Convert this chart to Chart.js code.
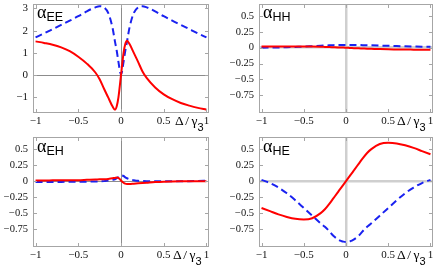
<!DOCTYPE html>
<html>
<head>
<meta charset="utf-8">
<script src="https://cdn.jsdelivr.net/npm/chart.js@4.4.1/dist/chart.umd.min.js"></script>
<style>
body { margin: 0; background: #fff; width: 436px; height: 267px; overflow: hidden; position: relative; }
.panel { position: absolute; }
.tag { position: absolute; white-space: nowrap; line-height: 1; font-size: 18px; font-family: "Liberation Serif", "Times New Roman", Times, "DejaVu Serif", serif; color: #000; }
.tag .s { font-size: 12.5px; font-family: "Liberation Sans", Arial, Helvetica, sans-serif; position: relative; top: 3px; }
.axl { position: absolute; white-space: nowrap; line-height: 1; font-size: 13.5px; font-family: "Liberation Serif", "Times New Roman", Times, "DejaVu Serif", serif; color: #000; word-spacing: -1px; }
.axl .s { font-size: 11px; font-family: "Liberation Sans", Arial, Helvetica, sans-serif; position: relative; top: 6px; }
</style>
</head>
<body>
<div class="panel" style="left:0;top:0"><canvas id="chartEE" width="218" height="134"></canvas></div>
<div class="panel" style="left:218px;top:0"><canvas id="chartHH" width="218" height="134"></canvas></div>
<div class="panel" style="left:0;top:134px"><canvas id="chartEH" width="218" height="133"></canvas></div>
<div class="panel" style="left:218px;top:134px"><canvas id="chartHE" width="218" height="133"></canvas></div>

<div class="tag" style="left:37px;top:3px">α<span class="s">EE</span></div>
<div class="tag" style="left:263px;top:3px">α<span class="s">HH</span></div>
<div class="tag" style="left:37px;top:137px">α<span class="s">EH</span></div>
<div class="tag" style="left:263px;top:137px">α<span class="s">HE</span></div>

<div class="axl" style="left:175px;top:114px">Δ / γ<span class="s">3</span></div>
<div class="axl" style="left:397px;top:114px">Δ / γ<span class="s">3</span></div>
<div class="axl" style="left:173px;top:248px">Δ / γ<span class="s">3</span></div>
<div class="axl" style="left:397px;top:248px">Δ / γ<span class="s">3</span></div>

<script>
// x-waarden (Δ/γ3), dezelfde voor alle vier panelen
let xValues = [-1, -0.9, -0.8, -0.7, -0.6, -0.5, -0.4, -0.3, -0.25, -0.2, -0.15, -0.1, -0.07, -0.05, -0.03, 0,
	0.03, 0.05, 0.07, 0.1, 0.15, 0.2, 0.25, 0.3, 0.4, 0.5, 0.6, 0.7, 0.8, 0.9, 1];

// tick labels
let xTicks = [-1, -0.5, 0, 0.5, 1];
let eeTicks = [-1, 0, 1, 2, 3];
let smallTicks = [-0.75, -0.5, -0.25, 0, 0.25, 0.5];

// alpha_EE
let eeRed = [1.52, 1.45, 1.37, 1.25, 1.08, 0.83, 0.52, 0.12, -0.18, -0.6, -1.0, -1.4, -1.55, -1.4, -1.0, 0,
	1.0, 1.4, 1.55, 1.4, 1.0, 0.6, 0.18, -0.12, -0.55, -0.86, -1.08, -1.25, -1.37, -1.47, -1.55];
let eeBlue = [1.7, 1.88, 2.07, 2.26, 2.45, 2.65, 2.87, 3.05, 3.1, 3.05, 2.8, 2.15, 1.5, 1.1, 0.6, 0.03,
	0.6, 1.1, 1.5, 2.15, 2.8, 3.05, 3.1, 3.05, 2.87, 2.65, 2.45, 2.26, 2.07, 1.88, 1.7];

// alpha_HH
let hhRed = [0.02, 0.02, 0.02, 0.02, 0.02, 0.02, 0.018, 0.015, 0.013, 0.011, 0.008, 0.005, 0.004, 0.003, 0.002, 0,
	-0.002, -0.003, -0.005, -0.007, -0.01, -0.013, -0.016, -0.018, -0.022, -0.025, -0.027, -0.029, -0.03, -0.031, -0.032];
let hhBlue = [0, 0.002, 0.004, 0.008, 0.013, 0.018, 0.025, 0.032, 0.035, 0.038, 0.041, 0.043, 0.044, 0.045, 0.045, 0.045,
	0.045, 0.045, 0.045, 0.044, 0.043, 0.041, 0.04, 0.038, 0.034, 0.03, 0.027, 0.023, 0.02, 0.017, 0.015];

// alpha_EH
let ehRed = [0.01, 0.01, 0.012, 0.013, 0.014, 0.015, 0.02, 0.025, 0.028, 0.03, 0.035, 0.045, 0.05, 0.055, 0.05, 0.01,
	-0.025, -0.04, -0.045, -0.045, -0.04, -0.035, -0.03, -0.025, -0.015, -0.008, -0.004, -0.002, -0.001, 0, 0];
let ehBlue = [-0.015, -0.014, -0.013, -0.012, -0.011, -0.01, -0.008, -0.005, -0.003, 0, 0.01, 0.02, 0.03, 0.045, 0.065, 0.09,
	0.08, 0.06, 0.045, 0.03, 0.015, 0.005, 0.002, 0, 0, 0, 0, 0, 0, 0.002, 0.005];

// alpha_HE
let heRed = [-0.42, -0.47, -0.52, -0.56, -0.59, -0.6, -0.58, -0.5, -0.44, -0.36, -0.27, -0.18, -0.125, -0.09, -0.054, 0,
	0.054, 0.09, 0.125, 0.18, 0.27, 0.36, 0.44, 0.5, 0.58, 0.6, 0.59, 0.56, 0.52, 0.47, 0.42];
let heBlue = [0.02, -0.03, -0.1, -0.19, -0.3, -0.42, -0.54, -0.66, -0.715, -0.78, -0.855, -0.907, -0.93, -0.94, -0.946, -0.95,
	-0.946, -0.94, -0.93, -0.907, -0.855, -0.78, -0.715, -0.66, -0.54, -0.42, -0.3, -0.19, -0.1, -0.03, 0.02];

let serif = '"Liberation Serif", "Times New Roman", Times, "DejaVu Serif", serif';

// minteken zoals in het origineel
function fmt(v) {
	return v < 0 ? '\u2212' + Math.abs(v) : String(v);
}

function pts(ys) {
	return xValues.map((x, i) => ({ x: x, y: ys[i] }));
}

// grijs kader met korte streepjes naar binnen
let framePlugin = {
	id: 'frame',
	afterDatasetsDraw(chart) {
		let a = chart.chartArea;
		let c = chart.ctx;
		let sx = chart.scales.x;
		let sy = chart.scales.y;
		c.save();
		c.strokeStyle = '#a6a6a6';
		c.lineWidth = 1;
		c.strokeRect(Math.round(a.left) + 0.5, Math.round(a.top) + 0.5, Math.round(a.right - a.left) - 1, Math.round(a.bottom - a.top) - 1);
		c.beginPath();
		sx.ticks.forEach(t => {
			let p = Math.round(sx.getPixelForValue(t.value)) + 0.5;
			c.moveTo(p, a.bottom); c.lineTo(p, a.bottom - 4);
			c.moveTo(p, a.top); c.lineTo(p, a.top + 4);
		});
		sy.ticks.forEach(t => {
			let p = Math.round(sy.getPixelForValue(t.value)) + 0.5;
			c.moveTo(a.left, p); c.lineTo(a.left + 4, p);
			c.moveTo(a.right, p); c.lineTo(a.right - 4, p);
		});
		c.stroke();
		c.restore();
	}
};

function makePanel(id, red, blue, yMin, yMax, yTicks, yWidth, padRight, padTop, xHeight, zeroColor, zeroWidth, yFont) {
	let ctx = document.getElementById(id).getContext('2d');
	return new Chart(ctx, {
		type: 'line',
		data: {
			datasets: [{
				data: pts(red),
				borderColor: '#ff0000',
				borderWidth: 2,
				pointRadius: 0,
				cubicInterpolationMode: 'monotone'
			}, {
				data: pts(blue),
				borderColor: '#1a22f0',
				borderWidth: 2,
				borderDash: [7, 4],
				pointRadius: 0,
				cubicInterpolationMode: 'monotone'
			}]
		},
		options: {
			responsive: false,
			animation: false,
			events: [],
			layout: { padding: { top: padTop, right: padRight, left: 0, bottom: 0 } },
			plugins: { legend: { display: false }, tooltip: { enabled: false }, title: { display: false } },
			scales: {
				x: {
					type: 'linear',
					min: -1.03,
					max: 1.03,
					afterBuildTicks: s => { s.ticks = xTicks.map(v => ({ value: v })); },
					afterFit: s => { s.height = xHeight; s.paddingLeft = 0; s.paddingRight = 0; },
					border: { display: false },
					grid: {
						drawTicks: false,
						color: c => c.tick && c.tick.value === 0 ? zeroColor : 'rgba(0,0,0,0)',
						lineWidth: zeroWidth
					},
					ticks: {
						padding: 2,
						maxRotation: 0,
						autoSkip: false,
						color: '#111',
						font: { family: serif, size: 11 },
						callback: v => fmt(v)
					}
				},
				y: {
					min: yMin,
					max: yMax,
					afterBuildTicks: s => { s.ticks = yTicks.map(v => ({ value: v })); },
					afterFit: s => { s.width = yWidth; s.paddingTop = 0; s.paddingBottom = 0; },
					border: { display: false },
					grid: {
						drawTicks: false,
						color: c => c.tick && c.tick.value === 0 ? zeroColor : 'rgba(0,0,0,0)',
						lineWidth: zeroWidth
					},
					ticks: {
						padding: 5,
						autoSkip: false,
						color: '#111',
						font: { family: serif, size: yFont },
						callback: v => fmt(v)
					}
				}
			}
		},
		plugins: [framePlugin]
	});
}

makePanel('chartEE', eeRed, eeBlue, -1.7, 3.2, eeTicks, 33, 9, 4, 21, '#8c8c8c', 1, 11);
makePanel('chartHH', hhRed, hhBlue, -1.03, 0.69, smallTicks, 41, 3, 4, 21, '#cfcfcf', 2.5, 10.5);
makePanel('chartEH', ehRed, ehBlue, -1.03, 0.69, smallTicks, 33, 9, 3, 20, '#8c8c8c', 1, 10.5);
makePanel('chartHE', heRed, heBlue, -1.03, 0.69, smallTicks, 41, 3, 3, 20, '#cfcfcf', 2.5, 10.5);
</script>
</body>
</html>
